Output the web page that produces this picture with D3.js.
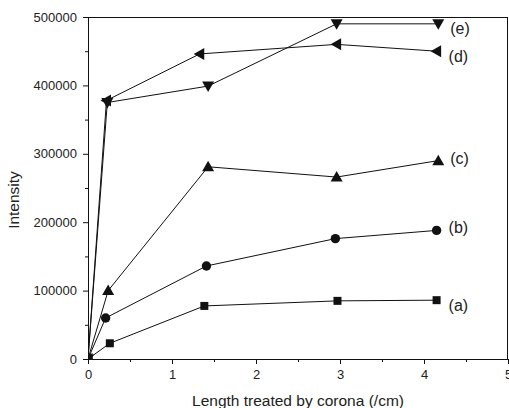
<!DOCTYPE html>
<html>
<head>
<meta charset="utf-8">
<script src="https://cdn.jsdelivr.net/npm/d3@7"></script>
<style>
  body { margin: 0; background: #fff; }
  svg { display: block; font-family: "Liberation Sans", Arial, sans-serif; }
</style>
</head>
<body>
<script>
// data
var v_Names   = ["(a)", "(b)", "(c)", "(d)", "(e)"];
var v_Symbols = ["square", "circle", "up", "left", "down"];

var v_XA = [0, 0.26, 1.385, 2.97, 4.15];
var v_YA = [0, 23000, 77600, 85000, 86000];
var v_XB = [0, 0.21, 1.41, 2.945, 4.15];
var v_YB = [0, 60000, 136000, 176000, 188000];
var v_XC = [0, 0.24, 1.43, 2.96, 4.17];
var v_YC = [0, 100000, 281000, 266000, 290000];
var v_XD = [0, 0.22, 1.33, 2.96, 4.15];
var v_YD = [0, 378000, 446000, 460000, 450000];
var v_XE = [0, 0.23, 1.43, 2.96, 4.17];
var v_YE = [0, 375000, 399000, 490000, 490000];

var v_XTicks = [0, 1, 2, 3, 4, 5];
var v_YTicks = [0, 100000, 200000, 300000, 400000, 500000];

var v_Series = [
    {name: v_Names[0], sym: v_Symbols[0], xs: v_XA, ys: v_YA},
    {name: v_Names[1], sym: v_Symbols[1], xs: v_XB, ys: v_YB},
    {name: v_Names[2], sym: v_Symbols[2], xs: v_XC, ys: v_YC},
    {name: v_Names[3], sym: v_Symbols[3], xs: v_XD, ys: v_YD},
    {name: v_Names[4], sym: v_Symbols[4], xs: v_XE, ys: v_YE}
];

// small vertical nudges of the end labels (px)
var v_LabelNudge = {"(a)": 5, "(b)": -3, "(c)": -2, "(d)": 5, "(e)": 5};

var v_W = 509, v_H = 408;
var v_M = {left: 88, right: 1, top: 17, bottom: 49};

var v_SVG = d3.select("body").append("svg")
    .attr("width", v_W)
    .attr("height", v_H);

var x = d3.scaleLinear().domain([0, 5]).range([v_M.left, v_W - v_M.right]);
var y = d3.scaleLinear().domain([0, 500000]).range([v_H - v_M.bottom, v_M.top]);

// minor ticks
v_SVG.append("g")
    .attr("transform", "translate(0," + y(0) + ")")
    .call(d3.axisBottom(x).tickValues(d3.range(0.5, 5, 1)).tickSize(3).tickFormat(""))
    .call(g => g.select(".domain").remove());
v_SVG.append("g")
    .attr("transform", "translate(" + x(0) + ",0)")
    .call(d3.axisLeft(y).tickValues(d3.range(50000, 500000, 100000)).tickSize(3).tickFormat(""))
    .call(g => g.select(".domain").remove());

// major axes
var v_XAxis = v_SVG.append("g")
    .attr("transform", "translate(0," + y(0) + ")")
    .call(d3.axisBottom(x).tickValues(v_XTicks).tickSize(5).tickSizeOuter(0).tickPadding(5).tickFormat(d3.format("d")));
var v_YAxis = v_SVG.append("g")
    .attr("transform", "translate(" + x(0) + ",0)")
    .call(d3.axisLeft(y).tickValues(v_YTicks).tickSize(5).tickSizeOuter(0).tickPadding(6).tickFormat(d3.format("d")));

v_SVG.selectAll(".tick text")
    .attr("font-size", 13)
    .attr("fill", "#222")
    .attr("font-family", "Liberation Sans, Arial, sans-serif");
v_XAxis.selectAll(".tick text").attr("dy", "0.75em");
v_SVG.selectAll(".tick line, .domain").attr("stroke", "#111");

// top and right frame
v_SVG.append("line")
    .attr("x1", x(0)).attr("x2", x(5))
    .attr("y1", y(500000) + 0.5).attr("y2", y(500000) + 0.5)
    .attr("stroke", "#111");
v_SVG.append("line")
    .attr("x1", x(5) - 0.5).attr("x2", x(5) - 0.5)
    .attr("y1", y(0)).attr("y2", y(500000))
    .attr("stroke", "#111");

// axis titles
v_SVG.append("text")
    .attr("x", (x(0) + x(5)) / 2)
    .attr("y", 406)
    .attr("text-anchor", "middle")
    .attr("font-size", 15.5)
    .attr("fill", "#222")
    .text("Length treated by corona (/cm)");
v_SVG.append("text")
    .attr("transform", "translate(19,200) rotate(-90)")
    .attr("text-anchor", "middle")
    .attr("font-size", 15.5)
    .attr("fill", "#222")
    .text("Intensity");

// clip to plot area
v_SVG.append("clipPath").attr("id", "plotClip")
    .append("rect")
    .attr("x", x(0)).attr("y", y(500000))
    .attr("width", x(5) - x(0)).attr("height", y(0) - y(500000));

var v_Plot = v_SVG.append("g").attr("clip-path", "url(#plotClip)");

var v_Line = d3.line()
    .x(d => x(d[0]))
    .y(d => y(d[1]));

function symbolPath(i_Sym)
{
    if ( i_Sym == "square" ) return "M-4,-4L4,-4L4,4L-4,4Z";
    if ( i_Sym == "up" )     return "M0,-6L6,4.5L-6,4.5Z";
    if ( i_Sym == "down" )   return "M0,6L6,-4.5L-6,-4.5Z";
    if ( i_Sym == "left" )   return "M-6,0L4.5,-6L4.5,6Z";
    return null;
}

v_Series.forEach(function (s)
{
    var v_Pts = s.xs.map((v, i) => [v, s.ys[i]]);

    v_Plot.append("path")
        .datum(v_Pts)
        .attr("fill", "none")
        .attr("stroke", "#111")
        .attr("stroke-width", 1)
        .attr("d", v_Line);

    var v_G = v_Plot.append("g");
    v_Pts.forEach(function (p)
    {
        if ( s.sym == "circle" )
        {
            v_G.append("circle")
                .attr("cx", x(p[0])).attr("cy", y(p[1]))
                .attr("r", 4.7).attr("fill", "#111");
        }
        else
        {
            v_G.append("path")
                .attr("transform", "translate(" + x(p[0]) + "," + y(p[1]) + ")")
                .attr("d", symbolPath(s.sym))
                .attr("fill", "#111");
        }
    });

    var v_Last = v_Pts[v_Pts.length - 1];
    v_SVG.append("text")
        .attr("x", x(v_Last[0]) + 12)
        .attr("y", y(v_Last[1]) + v_LabelNudge[s.name])
        .attr("dy", "0.35em")
        .attr("font-size", 16)
        .attr("fill", "#222")
        .text(s.name);
});
</script>
</body>
</html>
